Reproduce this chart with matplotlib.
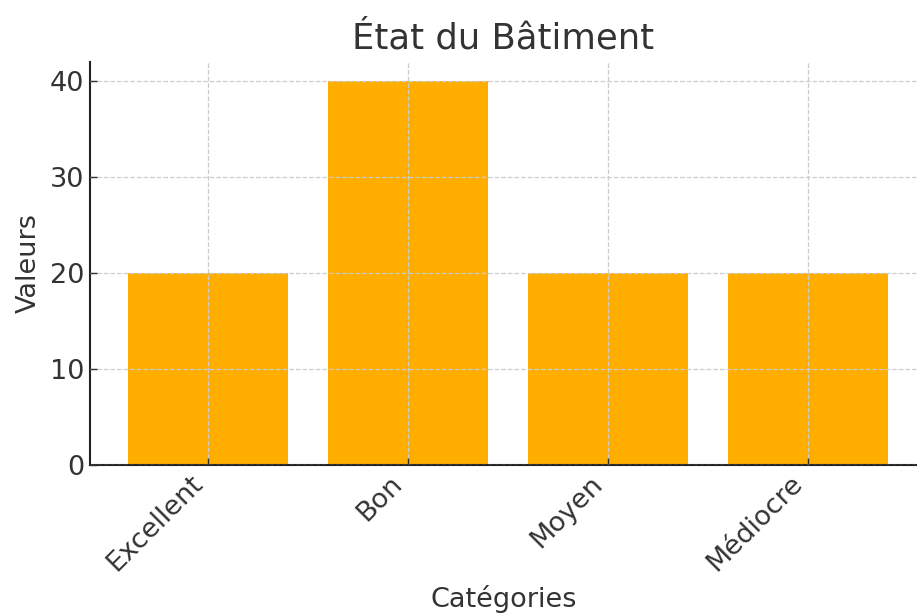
import matplotlib
matplotlib.use("Agg")
import matplotlib.pyplot as plt

categories = ["Excellent", "Bon", "Moyen", "Médiocre"]
values = [20, 40, 20, 20]

plt.rcParams['font.family'] = ['DejaVu Sans']
plt.rcParams['text.color'] = '#333333'
plt.rcParams['axes.labelcolor'] = '#333333'
plt.rcParams['xtick.color'] = '#333333'
plt.rcParams['ytick.color'] = '#333333'

fig = plt.figure(figsize=(9.17, 6.14), dpi=100)
ax = fig.add_axes([0.0981, 0.2427, 0.9019, 0.6563])

ax.bar(range(len(categories)), values, width=0.8, color='#ffae00', zorder=1)
ax.set_xticks(range(len(categories)))
ax.set_xticklabels(categories, rotation=45, ha='right')
ax.set_xlim(-0.59, 3.545)
ax.set_ylim(0, 42)
ax.set_yticks([0, 10, 20, 30, 40])

ax.grid(True, linestyle='--', color='#cccccc', linewidth=0.9, zorder=0)
ax.set_axisbelow(False)
ax.spines['top'].set_visible(False)
ax.spines['right'].set_visible(False)
for s in ['left', 'bottom']:
    ax.spines[s].set_linewidth(1.5)
    ax.spines[s].set_color('#222222')
ax.tick_params(direction='in', labelsize=19.5, length=5, width=1, pad=4)

ax.set_title("État du Bâtiment", fontsize=25.5, pad=10)
ax.set_xlabel("Catégories", fontsize=19.5, labelpad=6)
ax.set_ylabel("Valeurs", fontsize=19.5, labelpad=6)

fig.savefig("out.png", dpi=100)
